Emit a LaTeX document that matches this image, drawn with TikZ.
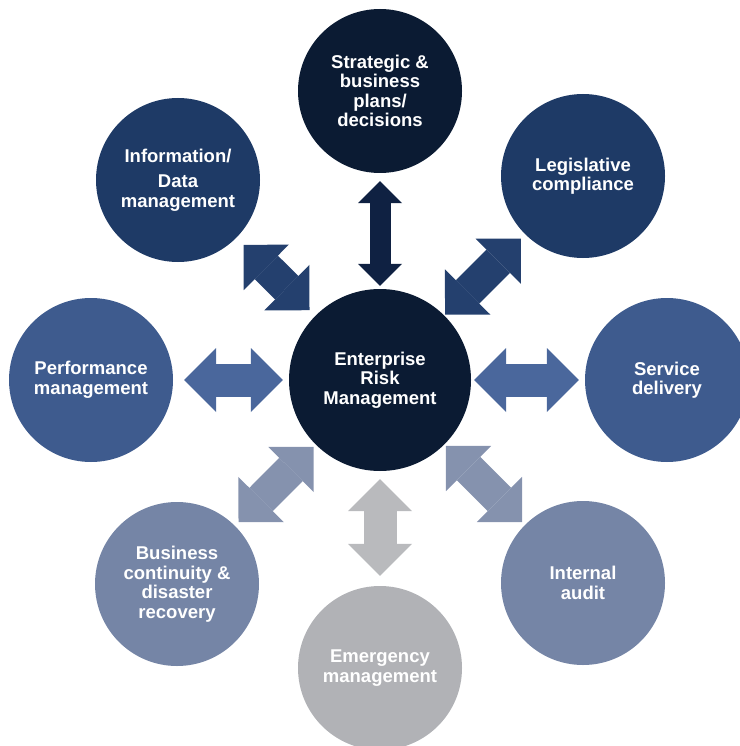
\documentclass[tikz,border=0pt]{standalone}
\usepackage{fontspec}
\setmainfont{Liberation Sans}
\usetikzlibrary{arrows.meta}

\definecolor{navy}{HTML}{0B1B33}
\definecolor{deepblue}{HTML}{1E3A66}
\definecolor{midblue}{HTML}{3E5B8E}
\definecolor{greyblue}{HTML}{7585A6}
\definecolor{softgrey}{HTML}{B1B2B6}
\definecolor{arrtop}{HTML}{0F2142}
\definecolor{arrup}{HTML}{24406E}
\definecolor{arrmid}{HTML}{4A679C}
\definecolor{arrlow}{HTML}{8592AE}
\definecolor{arrbot}{HTML}{B9BABD}

\tikzset{
    bubble/.style={circle, inner sep=0pt, minimum size=164pt, text=white, align=center,
        font=\bfseries\fontsize{18.5}{19.5}\selectfont},
    link/.style={line width=33pt,
        {Triangle[width=64pt, length=32pt, line width=0pt]}-{Triangle[width=64pt, length=32pt, line width=0pt]}},
    thinlink/.style={line width=21pt,
        {Triangle[width=44pt, length=22pt, line width=0pt]}-{Triangle[width=44pt, length=22pt, line width=0pt]}},
}

\begin{document}
\begin{tikzpicture}[x=1pt, y=-1pt]
    \useasboundingbox (0, 0) rectangle (739, 746);

    % centre and the eight areas round it
    \node[bubble, fill=navy, minimum size=182pt] (erm) at (380, 380) {Enterprise\\Risk\\Management};
    \node[bubble, fill=navy] (strat) at (380, 91) {Strategic \&\\business\\plans/\\decisions};
    \node[bubble, fill=deepblue] (legis) at (583, 176) {Legislative\\compliance};
    \node[bubble, fill=midblue] (serv) at (667, 380) {Service\\delivery};
    \node[bubble, fill=greyblue] (audit) at (583, 583) {Internal\\audit};
    \node[bubble, fill=softgrey] (emerg) at (380, 668) {Emergency\\management};
    \node[bubble, fill=greyblue] (bcont) at (177, 584) {Business\\continuity \&\\disaster\\recovery};
    \node[bubble, fill=midblue] (perf) at (91, 380) {Performance\\management};
    \node[bubble, fill=deepblue] (info) at (178, 180) {Information/\\[6pt]Data\\management};

    % two-way arrows
    \draw[thinlink, arrtop, shorten <=3pt, shorten >=8pt] (erm) -- (strat);
    \draw[link, arrup, shorten <=1pt, shorten >=6pt] (erm) -- (legis);
    \draw[link, arrmid, shorten <=3pt, shorten >=6pt] (erm) -- (serv);
    \draw[link, arrlow, shorten <=2pt, shorten >=4pt] (erm) -- (audit);
    \draw[link, arrbot, shorten <=8pt, shorten >=10pt] (erm) -- (emerg);
    \draw[link, arrlow, shorten <=3pt, shorten >=5pt] (erm) -- (bcont);
    \draw[link, arrmid, shorten <=6pt, shorten >=11pt] (erm) -- (perf);
    \draw[link, arrup, shorten <=8pt, shorten >=10pt] (erm) -- (info);

\end{tikzpicture}
\end{document}
